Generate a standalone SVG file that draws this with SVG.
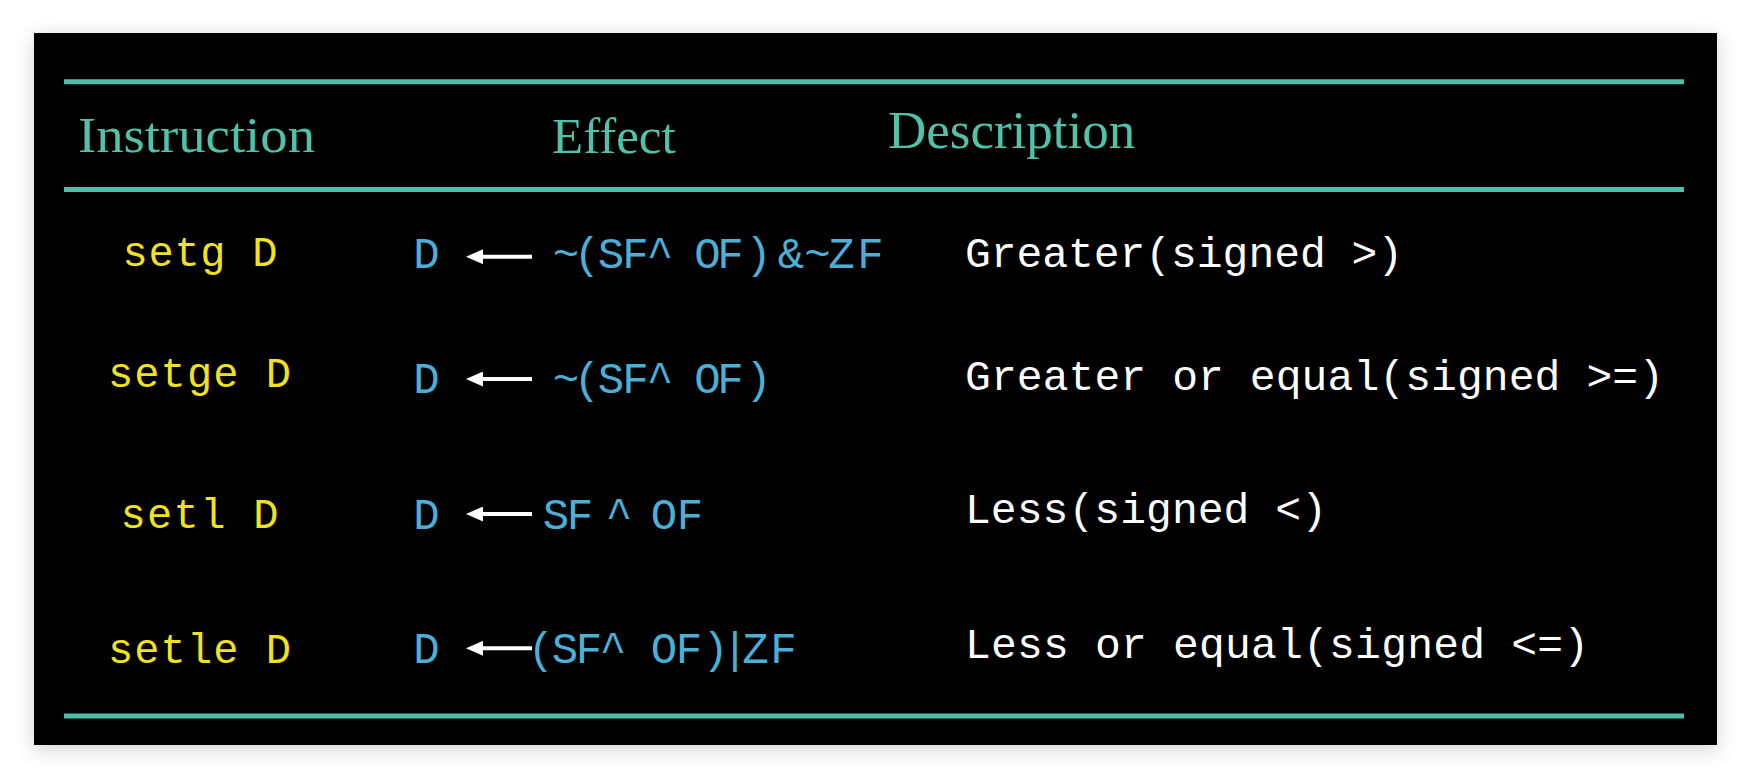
<svg xmlns="http://www.w3.org/2000/svg" width="1751" height="778" viewBox="0 0 1751 778">
  <style>
    .rule { stroke: #4DBFA9; stroke-width: 5; }
    .hdr { font-family: "Liberation Serif", "Times New Roman", serif; fill: #50C2AA; }
    .ins { font-family: "Liberation Mono", "Courier New", monospace; font-size: 42px; fill: #F2E21C; }
    .eff { font-family: "Liberation Mono", "Courier New", monospace; font-size: 44px; fill: #4BAFD6; }
    .desc { font-family: "Liberation Mono", "Courier New", monospace; font-size: 43px; fill: #FFFFFF; }
    .arrow { stroke: #FFFFFF; stroke-width: 4; fill: none; }
  </style>
  <defs>
    <filter id="shadow" x="-5%" y="-8%" width="110%" height="116%">
      <feDropShadow dx="0" dy="4" stdDeviation="10" flood-color="#000000" flood-opacity="0.18"/>
    </filter>
    <marker id="head" viewBox="0 0 17 15" markerWidth="17" markerHeight="15" refX="1" refY="7.5" orient="auto" markerUnits="userSpaceOnUse">
      <path d="M0,0 L17,7.5 L0,15 Z" fill="#FFFFFF"/>
    </marker>
  </defs>

  <rect x="0" y="0" width="1751" height="778" fill="#FFFFFF"/>
  <rect id="panel" x="34" y="33" width="1683" height="712" fill="#000000" filter="url(#shadow)"/>

  <g id="rules">
    <line class="rule" x1="64" y1="81.8" x2="1684" y2="81.8"/>
    <line class="rule" x1="64" y1="189.5" x2="1684" y2="189.5"/>
    <line class="rule" x1="64" y1="716" x2="1684" y2="716"/>
  </g>

  <g id="header">
    <text class="hdr" x="78" y="152.3" font-size="51" textLength="237" lengthAdjust="spacingAndGlyphs">Instruction</text>
    <text class="hdr" x="552" y="152.5" font-size="51">Effect</text>
    <text class="hdr" x="888" y="148.3" font-size="53">Description</text>
  </g>

  <g id="row-setg">
    <text class="ins" x="122.5" y="266" textLength="155">setg D</text>
    <text class="eff" x="413.3" y="267.7">D</text>
    <text class="eff" y="267.7" x="552.8 573.8 597.8 622.3 640 646.8 670 694.3 717.3 745.3 770 777.8 800 804.3 828.3 857.3">~(SF ^ OF) &amp; ~ZF</text>
    <text class="desc" x="965" y="266.7" textLength="438">Greater(signed &gt;)</text>
  </g>

  <g id="row-setge">
    <text class="ins" x="108" y="386.7" textLength="183">setge D</text>
    <text class="eff" x="413.3" y="393.3">D</text>
    <text class="eff" y="393.3" x="552.8 573.8 597.8 622.3 635 646.8 667 694.3 717.3 745.3">~(SF ^ OF)</text>
    <text class="desc" x="965" y="390" textLength="699">Greater or equal(signed &gt;=)</text>
  </g>

  <g id="row-setl">
    <text class="ins" x="120.5" y="528.3" textLength="158">setl D</text>
    <text class="eff" x="413.3" y="529.3">D</text>
    <text class="eff" y="529.3" x="542.8 566.8 590 605.8 630 650.8 676.8">SF ^ OF</text>
    <text class="desc" x="965" y="523.3" textLength="362">Less(signed &lt;)</text>
  </g>

  <g id="row-setle">
    <text class="ins" x="108" y="662.7" textLength="183">setle D</text>
    <text class="eff" x="413.3" y="663.3">D</text>
    <text class="eff" y="663.3" x="527.8 551.8 575.8 595 599.8 640 650.8 675.8 702.3 721.8 742.3 770.3">(SF ^ OF)|ZF</text>
    <text class="desc" x="965" y="658.3" textLength="624">Less or equal(signed &lt;=)</text>
  </g>

  <g id="connectors">
    <line class="arrow" x1="532" y1="256.7" x2="482" y2="256.7" marker-end="url(#head)"/>
    <line class="arrow" x1="532" y1="379" x2="482" y2="379" marker-end="url(#head)"/>
    <line class="arrow" x1="532" y1="514" x2="482" y2="514" marker-end="url(#head)"/>
    <line class="arrow" x1="532" y1="648.3" x2="482" y2="648.3" marker-end="url(#head)"/>
  </g>
</svg>
